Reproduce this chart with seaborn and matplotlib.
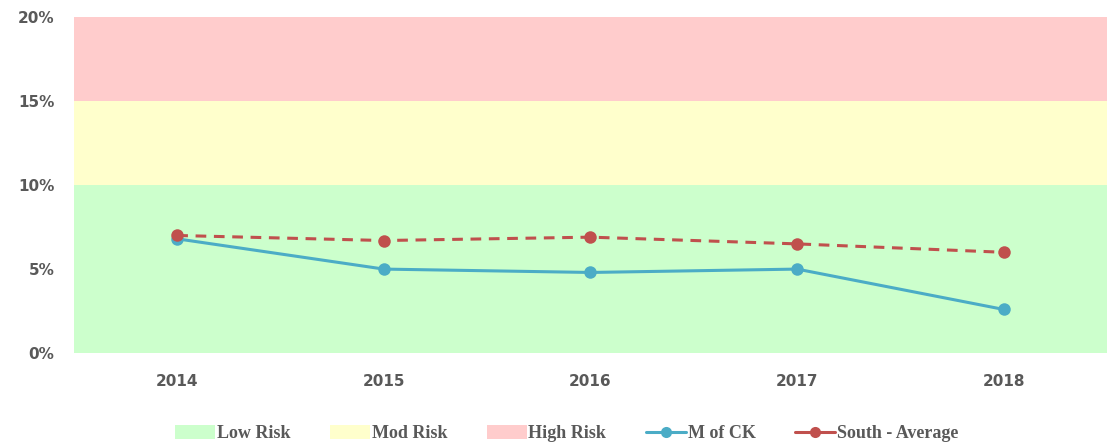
import pandas as pd
import matplotlib
matplotlib.use('Agg')
import matplotlib.pyplot as plt
import seaborn as sns
from matplotlib.patches import Patch
from matplotlib.lines import Line2D

years = ['2014', '2015', '2016', '2017', '2018']
m_of_ck = [6.8, 5.0, 4.8, 5.0, 2.6]
south_avg = [7.0, 6.7, 6.9, 6.5, 6.0]
bands = [('Low Risk', 0, 10, '#CCFFCC'), ('Mod Risk', 10, 15, '#FFFFCC'), ('High Risk', 15, 20, '#FFCCCC')]

df = pd.DataFrame({'year': years * 2,
                   'value': m_of_ck + south_avg,
                   'series': ['M of CK'] * 5 + ['South - Average'] * 5})
df['x'] = list(range(5)) * 2

sns.set_style('white')
fig = plt.figure(figsize=(11.07, 4.47), dpi=100)
ax = fig.add_axes([0.0668, 0.21, 0.9332, 0.752])

for name, lo, hi, col in bands:
    ax.axhspan(lo, hi, color=col, zorder=0, lw=0)

blue = '#4BACC6'
red = '#C0504D'
sns.lineplot(data=df[df.series == 'M of CK'], x='x', y='value', ax=ax, color=blue,
             marker='o', markersize=9, markeredgewidth=0, lw=2.2, zorder=3)
sns.lineplot(data=df[df.series == 'South - Average'], x='x', y='value', ax=ax, color=red,
             marker='o', markersize=9, markeredgewidth=0, lw=2.2, zorder=4)
ax.lines[-1].set_linestyle((0, (3.5, 2.5)))

ax.set_xlim(-0.5, 4.5)
ax.set_ylim(0, 20)
ax.set_xticks(range(5))
ax.set_xticklabels(years)
ax.set_yticks([0, 5, 10, 15, 20])
ax.set_yticklabels([f'{v}%' for v in [0, 5, 10, 15, 20]])
ax.set_xlabel('')
ax.set_ylabel('')
ax.tick_params(length=0, labelsize=11, labelcolor='#595959')
ax.tick_params(axis='x', pad=15)
ax.tick_params(axis='y', pad=14)
for lab in ax.get_xticklabels() + ax.get_yticklabels():
    lab.set_fontweight('bold')
    lab.set_family('DejaVu Sans')
sns.despine(ax=ax, left=True, bottom=True)

handles = [Patch(facecolor=c, edgecolor='none', label=n) for n, lo, hi, c in bands]
handles.append(Line2D([], [], color=blue, marker='o', markersize=8, markeredgewidth=0, lw=2.2, label='M of CK'))
handles.append(Line2D([], [], color=red, marker='o', markersize=8, markeredgewidth=0, lw=2.2, label='South - Average'))
leg = fig.legend(handles=handles, loc='center', bbox_to_anchor=(0.512, 0.03), ncol=5, frameon=False,
                 prop={'family': 'Liberation Serif', 'size': 13, 'weight': 'bold'},
                 handlelength=2.2, handleheight=0.8, columnspacing=2.2, handletextpad=0.1)
for t in leg.get_texts():
    t.set_color('#595959')

fig.savefig('out.png', dpi=100)
